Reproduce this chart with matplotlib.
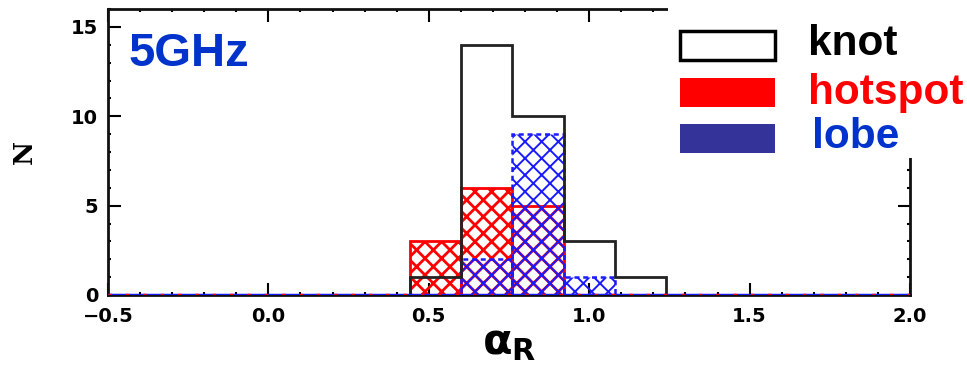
import numpy as np
import matplotlib
matplotlib.use('Agg')
import matplotlib.pyplot as plt
from matplotlib.patches import Rectangle
from matplotlib.ticker import MultipleLocator

# bin edges of the spectral index histogram and counts per bin
edges = [0.44, 0.60, 0.76, 0.92, 1.08, 1.24]
knot = [1, 14, 10, 3, 1]
hotspot = [3, 6, 5, 0, 0]
lobe = [0, 2, 9, 1, 0]

labels = ['knot', 'hotspot', 'lobe']
label_colors = ['black', '#ff0000', '#0033cc']
patch_colors = ['white', '#ff0000', '#333399']


def main():
    plt.rcParams['hatch.linewidth'] = 2.0
    fig = plt.figure(figsize=(9.67, 3.71), dpi=100)
    ax = fig.add_axes([108 / 967, 1 - 295 / 371, 802 / 967, 286 / 371])

    lefts = np.array(edges[:-1])
    widths = np.diff(edges)

    # hotspot: red cross hatch
    ax.bar(lefts, hotspot, width=widths, align='edge', facecolor='none',
           edgecolor='#ff0000', hatch='xx', linewidth=2, zorder=2)
    # lobe: blue dotted cross hatch (thinner hatch lines if supported)
    lobe_bars = ax.bar(lefts, lobe, width=widths, align='edge', facecolor='none',
                       edgecolor='#1a1aff', hatch='xx', linewidth=1.8,
                       linestyle=(0, (2, 1.5)), zorder=3)
    for b in lobe_bars:
        if hasattr(b, 'set_hatch_linewidth'):
            b.set_hatch_linewidth(1.4)
    # knot: black outline
    ax.stairs(knot, edges, color='#222222', linewidth=2, zorder=4)

    # zero level lines over the full range
    ax.axhline(0, color='#1a1aff', linewidth=2.5, zorder=5)
    ax.axhline(0, color='#ff0000', linewidth=2.5, linestyle=(0, (1, 4)), zorder=6)

    ax.set_xlim(-0.5, 2.0)
    ax.set_ylim(0, 16)
    ax.xaxis.set_major_locator(MultipleLocator(0.5))
    ax.xaxis.set_minor_locator(MultipleLocator(0.1))
    ax.yaxis.set_major_locator(MultipleLocator(5))
    ax.yaxis.set_minor_locator(MultipleLocator(1))
    ax.tick_params(which='both', direction='in', top=True, right=True, width=1.5)
    ax.tick_params(which='major', length=9, labelsize=14)
    ax.tick_params(axis='x', which='major', pad=9)
    ax.tick_params(axis='y', which='major', pad=7)
    for lab in ax.get_xticklabels() + ax.get_yticklabels():
        lab.set_fontweight('bold')
    for sp in ax.spines.values():
        sp.set_linewidth(2)
        sp.set_color('#111111')

    ax.set_xlabel(r'$\mathbf{\alpha}_{\mathbf{R}}$', fontsize=31, labelpad=-4)
    ax.set_ylabel('N', fontsize=19, fontfamily='DejaVu Serif', fontweight='bold')
    ax.yaxis.set_label_coords((37 - 108) / 802, 0.5)

    ax.text(0.025, 0.80, '5GHz', transform=ax.transAxes, color='#0033cc',
            fontsize=34, fontweight='bold', fontfamily='Liberation Sans')

    # white area behind the legend covers the frame corner
    fig.patches.append(Rectangle((668 / 967, 1 - 158 / 371), 1, 1,
                                 transform=fig.transFigure, facecolor='white',
                                 edgecolor='none', zorder=10))
    box_tops = [31, 78, 124]
    text_base = [55, 104, 148]
    text_x = [808, 808, 812]
    for i, lab in enumerate(labels):
        fig.patches.append(Rectangle((680 / 967, 1 - (box_tops[i] + 29) / 371),
                                     95 / 967, 29 / 371,
                                     transform=fig.transFigure,
                                     facecolor=patch_colors[i],
                                     edgecolor='black' if i == 0 else 'none',
                                     linewidth=2.5, zorder=11))
        fig.text(text_x[i] / 967, 1 - text_base[i] / 371, lab,
                 color=label_colors[i], fontsize=30.5, fontweight='bold',
                 fontfamily='Liberation Sans', va='baseline', zorder=12)

    fig.savefig('out.png', dpi=100)


if __name__ == '__main__':
    main()
